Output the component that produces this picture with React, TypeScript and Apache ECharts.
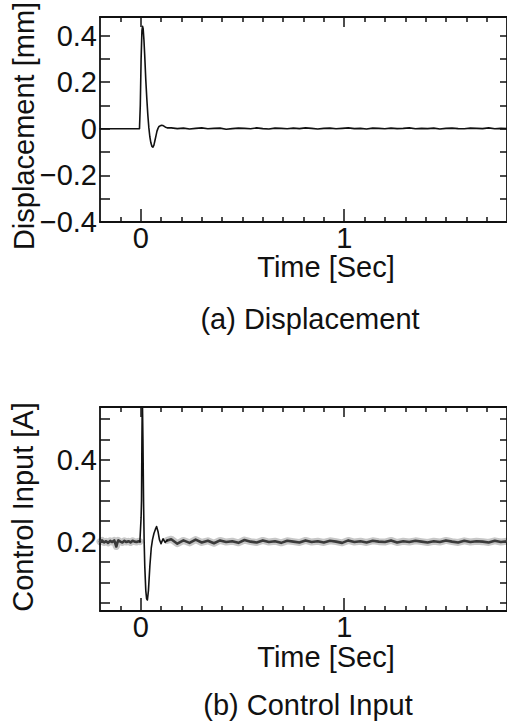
import React, { useEffect, useRef } from "react";
import * as echarts from "echarts";

// ---------- Data ----------
// (a) Displacement [mm]
const dispTransientT = [-0.2, -0.006, -0.002, 0.002, 0.006, 0.009, 0.012, 0.016, 0.02, 0.025, 0.03, 0.035, 0.04, 0.045, 0.05, 0.055, 0.06, 0.065, 0.07, 0.075, 0.08, 0.085, 0.09, 0.1, 0.11, 0.12, 0.13];
const dispTransientV = [0, 0, 0.1, 0.3, 0.42, 0.44, 0.43, 0.38, 0.31, 0.21, 0.13, 0.06, 0.005, -0.035, -0.06, -0.075, -0.079, -0.07, -0.05, -0.03, -0.01, 0.002, 0.01, 0.015, 0.014, 0.008, 0.004];

const noiseT = [0.15, 0.18, 0.21, 0.24, 0.27, 0.3, 0.33, 0.36, 0.39, 0.42,
  0.45, 0.48, 0.51, 0.54, 0.57, 0.6, 0.63, 0.66, 0.69, 0.72,
  0.75, 0.78, 0.81, 0.84, 0.87, 0.9, 0.93, 0.96, 0.99, 1.02,
  1.05, 1.08, 1.11, 1.14, 1.17, 1.2, 1.23, 1.26, 1.29, 1.32,
  1.35, 1.38, 1.41, 1.44, 1.47, 1.5, 1.53, 1.56, 1.59, 1.62,
  1.65, 1.68, 1.71, 1.74, 1.77, 1.8];
const dispNoiseV = [0.004, 0.001, 0.003, -0.001, 0.002, 0.004, 0.0, 0.002, 0.003, -0.002,
  0.001, 0.003, 0.002, 0.0, 0.004, 0.001, -0.001, 0.003, 0.002, 0.0,
  0.003, 0.001, 0.004, 0.002, -0.001, 0.002, 0.003, 0.0, 0.002, 0.004,
  0.001, 0.002, -0.001, 0.003, 0.002, 0.0, 0.003, 0.001, 0.002, 0.004,
  0.0, 0.002, 0.001, 0.003, -0.001, 0.002, 0.003, 0.001, 0.0, 0.003,
  0.002, 0.001, 0.004, 0.0, 0.002, 0.001];

// (b) Control Input [A]
const ctrlPreT = [-0.2, -0.19, -0.18, -0.17, -0.16, -0.15, -0.14, -0.13, -0.125, -0.12, -0.115, -0.11, -0.1, -0.09, -0.08, -0.07, -0.06, -0.05, -0.04, -0.03, -0.02, -0.01, -0.004];
const ctrlPreV = [0.2, 0.203, 0.198, 0.201, 0.197, 0.202, 0.199, 0.203, 0.196, 0.188, 0.197, 0.203, 0.2, 0.198, 0.202, 0.199, 0.201, 0.198, 0.202, 0.2, 0.199, 0.201, 0.2];
const ctrlTransientT = [-0.004, 0.0, 0.002, 0.004, 0.006, 0.008, 0.011, 0.014, 0.017, 0.02, 0.025, 0.029, 0.033, 0.038, 0.045, 0.052, 0.058, 0.065, 0.072, 0.078, 0.085, 0.092, 0.1, 0.11, 0.12, 0.13];
const ctrlTransientV = [0.2, 0.24, 0.26, 0.3, 0.45, 0.56, 0.45, 0.3, 0.2, 0.14, 0.08, 0.06, 0.057, 0.08, 0.14, 0.185, 0.205, 0.22, 0.23, 0.237, 0.225, 0.205, 0.195, 0.207, 0.198, 0.203];
const ctrlNoiseV = [0.206, 0.195, 0.203, 0.197, 0.205, 0.198, 0.202, 0.196, 0.203, 0.199,
  0.201, 0.197, 0.204, 0.2, 0.198, 0.203, 0.199, 0.201, 0.197, 0.202,
  0.2, 0.198, 0.203, 0.199, 0.201, 0.198, 0.202, 0.2, 0.197, 0.203,
  0.199, 0.201, 0.198, 0.202, 0.2, 0.199, 0.203, 0.198, 0.201, 0.199,
  0.202, 0.2, 0.198, 0.201, 0.199, 0.203, 0.2, 0.198, 0.202, 0.199,
  0.201, 0.2, 0.198, 0.202, 0.199, 0.201];

// ---------- Ticks / labels ----------
const xMajorTicks = [0, 1];
const xMinorTicks = [-0.1, 0.1, 0.2, 0.3, 0.4, 0.5, 0.6, 0.7, 0.8, 0.9, 1.1, 1.2, 1.3, 1.4, 1.5, 1.6, 1.7];
const xLabels = [0, 1];
const dispYTicks = [-0.3, -0.2, -0.1, 0, 0.1, 0.2, 0.3, 0.4];
const dispYLabels = [-0.4, -0.2, 0, 0.2, 0.4];
const ctrlYTicks = [0.05, 0.1, 0.15, 0.2, 0.25, 0.3, 0.35, 0.4, 0.45, 0.5];
const ctrlYLabels = [0.2, 0.4];

const FONT = "'Liberation Sans', Arial, Helvetica, sans-serif";
const FS = 29;

const zip = (t: number[], v: number[]) => t.map((x, i) => [x, v[i]]);

export default function App() {
  const ref = useRef<HTMLDivElement>(null);
  useEffect(() => {
    if (!ref.current) return;
    const chart = echarts.init(ref.current, null, { renderer: "svg" });

    const lineAx = { show: true, onZero: false, lineStyle: { color: "#111", width: 1.8 } };
    const noLine = { show: false, onZero: false };
    const fmt = (v: number) => (v === 0 ? "0" : String(v).replace("-", "\u2212"));
    const tickStyle = { color: "#111", width: 1.5 };

    const mkX = (grid: number) => [
      {
        type: "value", gridIndex: grid, position: "bottom", min: -0.2, max: 1.8,
        axisLine: lineAx,
        axisTick: { show: true, inside: true, length: 13, customValues: xMajorTicks, lineStyle: tickStyle },
        axisLabel: { show: true, customValues: xLabels, margin: 1, fontSize: FS, fontFamily: FONT, color: "#111", formatter: fmt },
        splitLine: { show: false },
      },
      {
        type: "value", gridIndex: grid, position: "bottom", min: -0.2, max: 1.8,
        axisLine: noLine,
        axisTick: { show: true, inside: true, length: 5, customValues: xMinorTicks, lineStyle: tickStyle },
        axisLabel: { show: false },
        splitLine: { show: false },
      },
      {
        type: "value", gridIndex: grid, position: "top", min: -0.2, max: 1.8,
        axisLine: lineAx,
        axisTick: { show: true, inside: true, length: 10, customValues: xMajorTicks, lineStyle: tickStyle },
        axisLabel: { show: false },
        splitLine: { show: false },
      },
      {
        type: "value", gridIndex: grid, position: "top", min: -0.2, max: 1.8,
        axisLine: noLine,
        axisTick: { show: true, inside: true, length: 5, customValues: xMinorTicks, lineStyle: tickStyle },
        axisLabel: { show: false },
        splitLine: { show: false },
      },
    ];

    const mkY = (grid: number, min: number, max: number, ticks: number[], labels: number[]) => [
      {
        type: "value", gridIndex: grid, position: "left", min, max,
        axisLine: lineAx,
        axisTick: { show: true, inside: true, length: 10, customValues: ticks, lineStyle: tickStyle },
        axisLabel: { show: true, customValues: labels, margin: 3, fontSize: FS, fontFamily: FONT, color: "#111", formatter: fmt },
        splitLine: { show: false },
      },
      {
        type: "value", gridIndex: grid, position: "right", min, max,
        axisLine: lineAx,
        axisTick: { show: true, inside: true, length: 7, customValues: ticks, lineStyle: tickStyle },
        axisLabel: { show: false },
        splitLine: { show: false },
      },
    ];

    const dispData = [...zip(dispTransientT, dispTransientV), ...zip(noiseT, dispNoiseV)];
    const ctrlPre = zip(ctrlPreT, ctrlPreV);
    const ctrlTrans = zip(ctrlTransientT, ctrlTransientV);
    const ctrlPost = [ctrlTrans[ctrlTrans.length - 1], ...zip(noiseT, ctrlNoiseV)];

    const line = (data: number[][], xi: number, yi: number, color: string, width: number, z = 2) => ({
      type: "line", data, xAxisIndex: xi, yAxisIndex: yi, showSymbol: false, symbol: "none",
      lineStyle: { color, width, cap: "round", join: "round" }, z, clip: true, silent: true,
    });

    const text = (t: string, x: number, y: number, rot = 0) => ({
      type: "text", x, y, rotation: rot, silent: true,
      style: { text: t, fill: "#111", font: `${FS}px ${FONT}`, textAlign: "center", textVerticalAlign: "middle" },
    });

    chart.setOption({
      animation: false,
      backgroundColor: "#fff",
      grid: [
        { left: 100, top: 17, width: 409, height: 205, containLabel: false },
        { left: 100, top: 407, width: 409, height: 204, containLabel: false },
      ],
      xAxis: [...mkX(0), ...mkX(1)],
      yAxis: [...mkY(0, -0.4, 0.48, dispYTicks, dispYLabels), ...mkY(1, 0.03, 0.53, ctrlYTicks, ctrlYLabels)],
      series: [
        line(dispData, 0, 0, "#111", 1.6),
        line(ctrlPre, 4, 2, "rgba(0,0,0,0.22)", 7, 1),
        line(ctrlPre, 4, 2, "#3a3a3a", 2.6, 2),
        line(ctrlPost, 4, 2, "rgba(0,0,0,0.22)", 7, 1),
        line(ctrlPost, 4, 2, "#3a3a3a", 2.6, 2),
        line(ctrlTrans, 4, 2, "#111", 1.6, 3),
      ],
      graphic: [
        text("Displacement [mm]", 24, 126, Math.PI / 2),
        text("Time [Sec]", 326, 267),
        text("(a) Displacement", 310, 319),
        text("Control Input [A]", 23, 507, Math.PI / 2),
        text("Time [Sec]", 326, 657),
        text("(b) Control Input", 308, 705),
      ],
    });
    return () => chart.dispose();
  }, []);
  return <div ref={ref} style={{ position: "fixed", left: 0, top: 0, width: 507, height: 723, background: "#fff" }} />;
}
